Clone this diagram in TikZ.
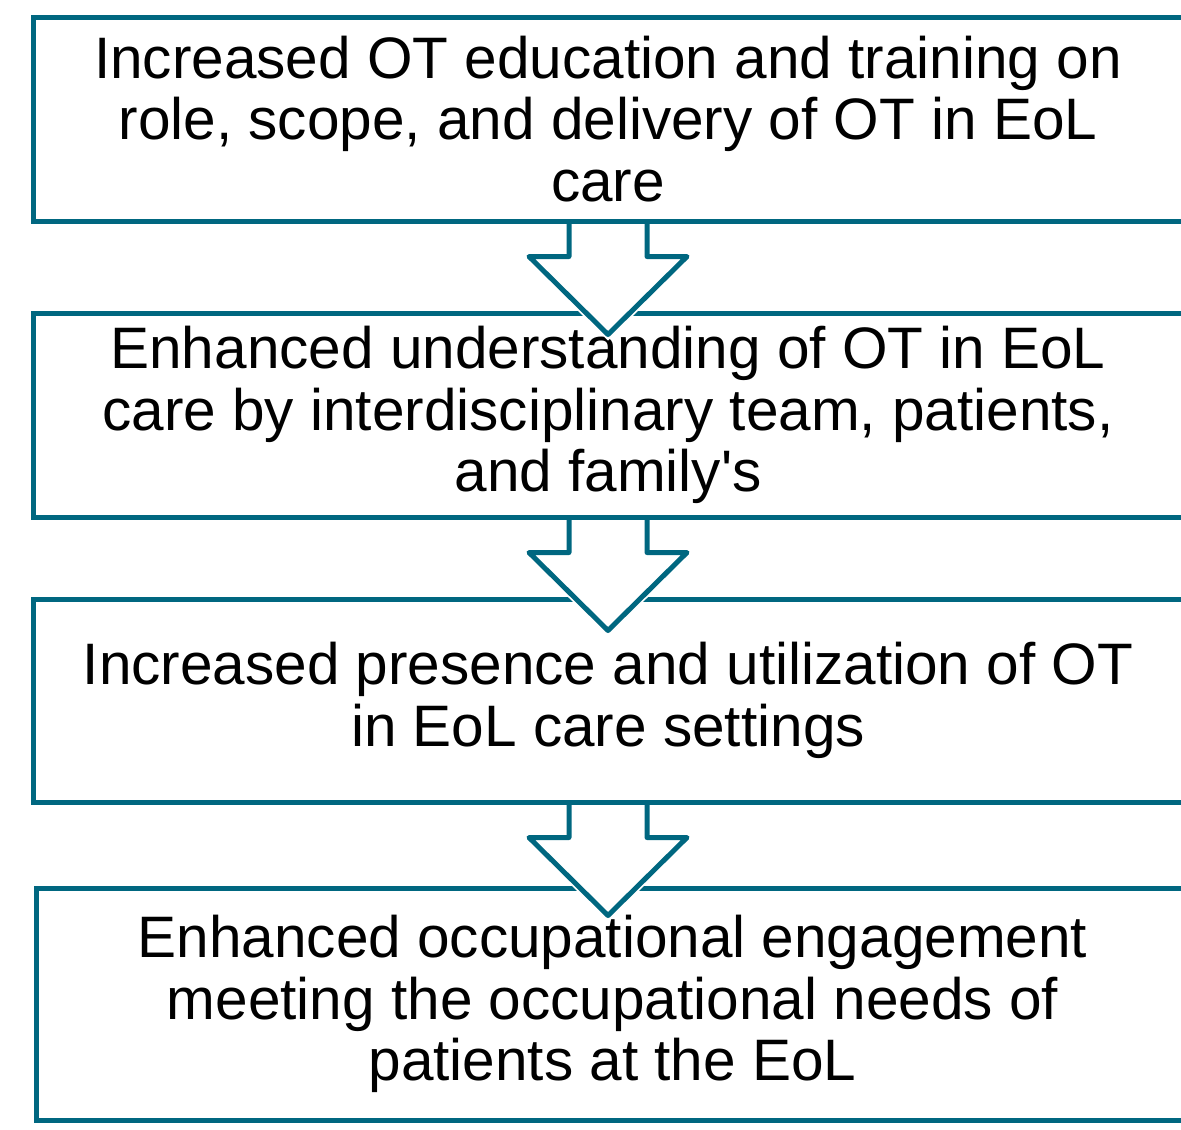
\documentclass[tikz,border=0pt]{standalone}
\usepackage{fontspec}
\setmainfont{Liberation Sans}
\definecolor{tealb}{RGB}{0,103,128}
\tikzset{
  box/.style={draw=tealb, line width=5pt, fill=white, align=center, inner sep=0pt,
    font=\fontsize{58.5}{61.5}\selectfont},
  blockarrow/.style={draw=tealb, line width=5pt, line join=round}
}
\begin{document}
\begin{tikzpicture}[x=1pt,y=-1pt]
\useasboundingbox (0,0) rectangle (1181,1130);
\clip (0,0) rectangle (1181,1130);
\node[box, minimum width=1150pt, minimum height=204pt] (b1) at (608,119)
  {Increased OT education and training on\\role, scope, and delivery of OT in EoL\\care};
\node[box, minimum width=1150pt, minimum height=204pt] (b2) at (608,415)
  {Enhanced understanding of OT in EoL\\care by interdisciplinary team, patients,\\and family\textquotesingle s};
\node[box, minimum width=1150pt, minimum height=203pt] (b3) at (608,700.5)
  {Increased presence and utilization of OT\\in EoL care settings};
\node[box, minimum width=1153pt, minimum height=232pt] (b4) at (612.5,1004)
  {Enhanced occupational engagement\\meeting the occupational needs of\\patients at the EoL};
\foreach \s in {b1,b2,b3}{
  \fill[white] ([xshift=-39pt,yshift=-3pt]\s.south) -- ++(0,36) -- ++(-40,0) -- ++(79,78) -- ++(79,-78) -- ++(-40,0) -- ++(0,-36) -- cycle;
  \draw[blockarrow] ([xshift=-39pt]\s.south) -- ++(0,33) -- ++(-40,0) -- ++(79,78) -- ++(79,-78) -- ++(-40,0) -- ++(0,-33);
}
\end{tikzpicture}
\end{document}
